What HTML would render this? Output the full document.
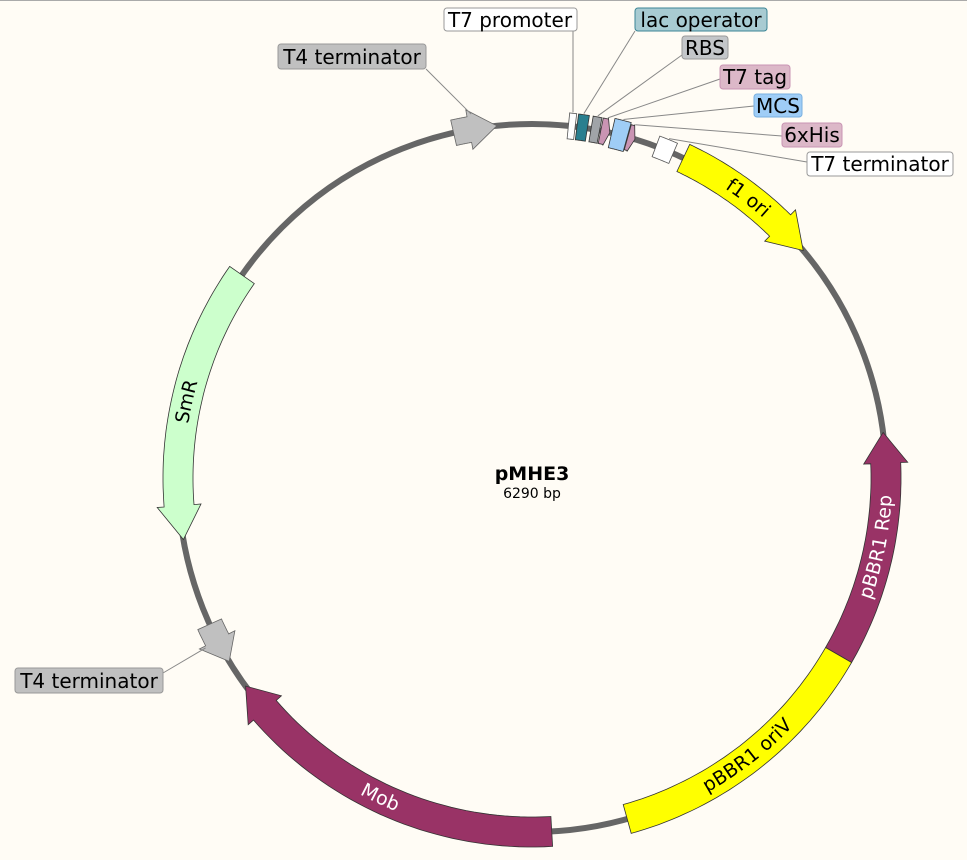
<!DOCTYPE html>
<html><head><meta charset="utf-8"><style>
html,body{margin:0;padding:0;background:#fffcf5;}
svg{display:block;font-family:"DejaVu Sans","Liberation Sans",sans-serif;}
.lb{font-size:20px;fill:#000;}
</style></head><body>
<svg id="s" width="967" height="860" viewBox="0 0 967 860" xmlns="http://www.w3.org/2000/svg">
<rect x="0" y="0" width="967" height="860" fill="#fffcf5"/>
<line x1="0" y1="0.5" x2="967" y2="0.5" stroke="#aaa" stroke-width="1"/>
<circle cx="532" cy="478" r="354" fill="none" stroke="#666" stroke-width="6"/>
<g id="feat"></g>
<g id="lines" stroke="#888" stroke-width="1" fill="none"></g>
<defs id="defs"></defs>
<rect x="444" y="8" width="133" height="23" rx="3" fill="#fff" stroke="#999"/>
<text class="lb" x="510" y="27" text-anchor="middle">T7 promoter</text>
<rect x="635" y="8" width="132" height="23" rx="3" fill="#a8cbd2" stroke="#3b8595"/>
<text class="lb" x="701" y="27" text-anchor="middle">lac operator</text>
<rect x="682" y="36" width="46" height="23" rx="3" fill="#c3c6c9" stroke="#999"/>
<text class="lb" x="705" y="55" text-anchor="middle">RBS</text>
<rect x="720" y="65" width="70" height="24" rx="3" fill="#dcb8c8" stroke="#c994b3"/>
<text class="lb" x="755" y="84" text-anchor="middle">T7 tag</text>
<rect x="754" y="94" width="48" height="23" rx="3" fill="#9fcdf6" stroke="#7ab0e0"/>
<text class="lb" x="778" y="113" text-anchor="middle">MCS</text>
<rect x="782" y="123" width="60" height="24" rx="3" fill="#dcb8c8" stroke="#c994b3"/>
<text class="lb" x="812" y="142" text-anchor="middle">6xHis</text>
<rect x="807" y="152" width="146" height="24" rx="3" fill="#fff" stroke="#999"/>
<text class="lb" x="880" y="171" text-anchor="middle">T7 terminator</text>
<rect x="278" y="44" width="148" height="25" rx="3" fill="#c0c0c0" stroke="#999"/>
<text class="lb" x="352" y="64" text-anchor="middle">T4 terminator</text>
<rect x="15" y="668" width="148" height="25" rx="3" fill="#c0c0c0" stroke="#999"/>
<text class="lb" x="89" y="688" text-anchor="middle">T4 terminator</text>
<text x="532" y="480" text-anchor="middle" font-weight="bold" font-size="19">pMHE3</text>
<text x="532" y="498" text-anchor="middle" font-size="14">6290 bp</text>
<g id="ftext" font-size="19">
<text fill="#000"><textPath href="#tp_f1" startOffset="50%" text-anchor="middle" dominant-baseline="central">f1 ori</textPath></text>
<text fill="#fff"><textPath href="#tp_rep" startOffset="50%" text-anchor="middle" dominant-baseline="central">pBBR1 Rep</textPath></text>
<text fill="#000"><textPath href="#tp_oriv" startOffset="50%" text-anchor="middle" dominant-baseline="central">pBBR1 oriV</textPath></text>
<text fill="#fff"><textPath href="#tp_mob" startOffset="50%" text-anchor="middle" dominant-baseline="central">Mob</textPath></text>
<text fill="#000"><textPath href="#tp_smr" startOffset="50%" text-anchor="middle" dominant-baseline="central">SmR</textPath></text>
</g>
</svg>
<script>
var cx=532,cy=478,R=354,NS="http://www.w3.org/2000/svg";
function P(a,r){a*=Math.PI/180;return [cx+r*Math.sin(a),cy-r*Math.cos(a)];}
function f(p){return p[0].toFixed(1)+","+p[1].toFixed(1);}
function shape(s,e,w,head,dir,fill,stroke,flx){
 var hw=w/2,fl=hw+(flx===undefined?7:flx),pts=[],i,n=40,a;
 if(!head){
  for(i=0;i<=n;i++){a=s+(e-s)*i/n;pts.push(P(a,R+hw));}
  for(i=n;i>=0;i--){a=s+(e-s)*i/n;pts.push(P(a,R-hw));}
 } else if(dir>0){
  var b=e-head;
  for(i=0;i<=n;i++){a=s+(b-s)*i/n;pts.push(P(a,R+hw));}
  pts.push(P(b,R+fl));pts.push(P(e,R));pts.push(P(b,R-fl));
  for(i=n;i>=0;i--){a=s+(b-s)*i/n;pts.push(P(a,R-hw));}
 } else {
  var b=s+head;
  pts.push(P(s,R));pts.push(P(b,R+fl));
  for(i=0;i<=n;i++){a=b+(e-b)*i/n;pts.push(P(a,R+hw));}
  for(i=n;i>=0;i--){a=b+(e-b)*i/n;pts.push(P(a,R-hw));}
  pts.push(P(b,R-fl));
 }
 var el=document.createElementNS(NS,"polygon");
 el.setAttribute("points",pts.map(f).join(" "));
 el.setAttribute("fill",fill);el.setAttribute("stroke",stroke||"#333");el.setAttribute("stroke-width","0.8");
 document.getElementById("feat").appendChild(el);
}
function tp(id,a1,a2,r){
 var p1=P(a1,r),p2=P(a2,r),sw=a2>a1?1:0,lg=Math.abs(a2-a1)>180?1:0;
 var el=document.createElementNS(NS,"path");
 el.setAttribute("id",id);
 el.setAttribute("d","M"+f(p1)+" A"+R+","+R+" 0 "+lg+" "+sw+" "+f(p2));
 document.getElementById("defs").appendChild(el);
}
function ln(x,y,a,r){var p=P(a,r);var el=document.createElementNS(NS,"line");
 el.setAttribute("x1",x);el.setAttribute("y1",y);el.setAttribute("x2",p[0]);el.setAttribute("y2",p[1]);
 document.getElementById("lines").appendChild(el);}
shape(-12.8,-5.7,26,4.5,1,"#c0c0c0","#666");
shape(25.3,50,30,5.5,1,"#ffff00","#333");
shape(82.6,120,30,5,-1,"#993366","#333");
shape(120,164.4,30,0,0,"#ffff00","#333");
shape(176.8,234,30,5,1,"#993366","#333");
shape(238.8,245.6,26,4,-1,"#c0c0c0","#666");
shape(260,305,30,5.5,-1,"#ccffcc","#333");
shape(5.9,7.0,26,0,0,"#ffffff","#555");
shape(7.3,9.0,26,0,0,"#2a7f8f","#333");
shape(9.6,11.0,26,0,0,"#a0a4a8","#333");
shape(11.2,12.7,26,0.7,1,"#c994b3","#333",1);
shape(13.0,15.6,30,0,0,"#9fcdf6","#333");
shape(15.7,16.9,26,0.7,1,"#c994b3","#333",1);
shape(20.5,23.5,22,0,0,"#ffffff","#555");
ln(426,69,-9.5,R+15);
ln(573,31,6.4,R+14);
ln(635,31,8.1,R+14);
ln(682,55,10.3,R+14);
ln(720,79,11.9,R+14);
ln(754,106,14.3,R+16);
ln(782,136,16.3,R+14);
ln(807,162,22.0,R+12);
ln(163,673,242.5,R+14);
tp("tp_f1",25.3,50,R);
tp("tp_rep",120,82.6,R);
tp("tp_oriv",164.4,120,R);
tp("tp_mob",234,176.8,R);
tp("tp_smr",260,305,R);
</script>
</body></html>
